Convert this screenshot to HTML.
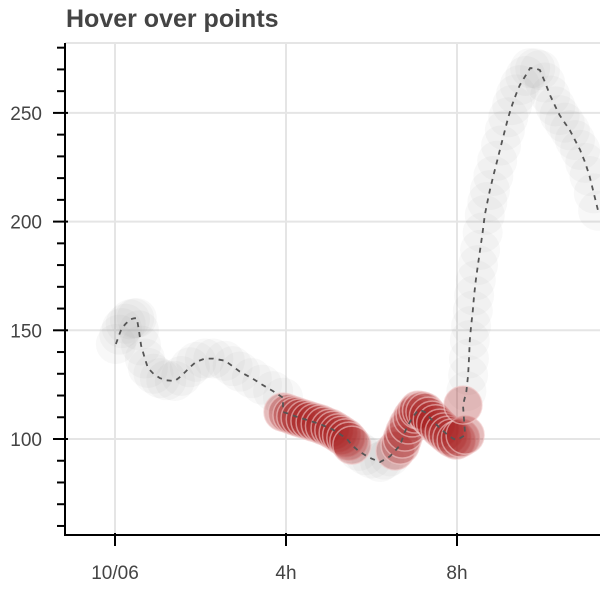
<!DOCTYPE html>
<html><head><meta charset="utf-8"><style>
html,body{margin:0;padding:0;background:#fff;}
svg{display:block;font-family:"Liberation Sans",sans-serif;}
</style></head><body>
<svg id="chart" width="600" height="600">
<text x="66" y="27" font-size="25" font-weight="bold" fill="#444">Hover over points</text>
<g id="grid"></g>
<g id="points"></g>
<g id="line"></g>
<g id="axes"></g>
</svg>
<script>
const hours=[0.02,0.1,0.16,0.25,0.35,0.45,0.51,0.56,0.61,0.7,0.77,0.9,1.05,1.2,1.4,1.55,1.75,1.9,2.1,2.3,2.57,2.75,2.92,3.2,3.44,3.7,3.93,
3.93,4.03,4.14,4.23,4.33,4.45,4.56,4.68,4.8,4.9,5.03,5.12,5.22,5.3,5.4,5.47,5.54,
5.7,5.85,6.0,6.2,6.3,6.43,
6.55,6.67,6.72,6.78,6.86,6.95,7.02,7.09,7.17,7.25,7.33,7.42,7.5,7.6,7.7,7.79,7.88,7.98,8.08,8.19,8.14,
8.22,8.26,8.28,8.3,8.33,8.37,8.4,8.44,8.49,8.54,8.6,8.65,8.71,8.77,8.85,8.94,9.03,9.12,9.2,9.29,9.38,9.47,9.6,9.71,9.83,9.94,10.06,10.18,10.3,10.4,10.52,10.64,10.76,10.88,11.0,11.1,11.2,11.3];
const values=[143.7,148,151,153,155,155.5,155.6,150,143,137,132.7,130,128,127,126.7,129,133,135.5,137,137,136,133.5,131,128,125,122,119,
112.4,111.8,111,110.4,109.7,109,108.3,107.6,106.9,106,105,104,102.8,101.7,100.5,99,97.2,
94.5,92.6,91,89.4,90.5,92,
94.5,97.2,100,103.2,106.5,109.7,111.5,113.3,113,112.4,110.5,108.7,107,105,103.3,101.8,100.5,99.5,100.5,101.8,115.6,
122,129.4,137,145.5,152,159,166,173,180,187,195,203,209,214.5,221,228,235,242,248,253.6,258.5,262.8,267,270.6,270.5,269.7,264,258,253,249,245.5,242,237.5,233,227,221,213,205];
const selectedRanges=[[27,43],[50,70]];
const yTicks=[100,150,200,250];
const xTicks=[0,4,8];
const xLabels=["10/06","4h","8h"];
const NS="http://www.w3.org/2000/svg";
const L=65,R=600,T=43,B=535;
const x=h=>115+h*42.75;
const y=v=>439-(v-100)*2.174;
const isSel=i=>selectedRanges.some(r=>i>=r[0]&&i<=r[1]);
function mk(p,tag,at){const e=document.createElementNS(NS,tag);for(const k in at)e.setAttribute(k,at[k]);p.appendChild(e);return e;}
const grid=document.getElementById('grid');
mk(grid,'line',{x1:L,x2:R,y1:T,y2:T,stroke:'#e5e5e5','stroke-width':2});
xTicks.forEach(t=>{const e=mk(grid,'line',{x1:x(t),x2:x(t),y1:T,y2:B,stroke:'#e5e5e5','stroke-width':2});

});
yTicks.forEach(t=>{const e=mk(grid,'line',{x1:L,x2:R,y1:y(t),y2:y(t),stroke:'#e5e5e5','stroke-width':2});

});
const pts=document.getElementById('points');
hours.forEach((h,i)=>{if(isSel(i))return;const c=mk(pts,'circle',{cx:x(h),cy:y(values[i]),r:20,fill:'#999','fill-opacity':0.07});

});
hours.forEach((h,i)=>{if(!isSel(i))return;const c=mk(pts,'circle',{cx:x(h),cy:y(values[i]),r:19,fill:'#a82020','fill-opacity':0.3,stroke:'#f0c8c8','stroke-width':1.5,'stroke-opacity':0.6});

});
const lg=document.getElementById('line');
const d=hours.map((h,i)=>(i?'L':'M')+x(h).toFixed(1)+','+y(values[i]).toFixed(1)).join('');
const pl=mk(lg,'path',{d:d,fill:'none',stroke:'#555','stroke-width':1.8,'stroke-dasharray':'5,5'});


const ax=document.getElementById('axes');
mk(ax,'line',{x1:L,x2:L,y1:T,y2:B+1,stroke:'#000','stroke-width':2});
mk(ax,'line',{x1:L-1,x2:R,y1:B,y2:B,stroke:'#000','stroke-width':2});
for(let v=60;v<=280;v+=10){const maj=v%50==0;mk(ax,'line',{x1:maj?53:57,x2:maj?68:65,y1:y(v),y2:y(v),stroke:'#000','stroke-width':2});}
yTicks.forEach(t=>{const e=mk(ax,'text',{x:42,y:y(t)+7,'font-size':19,fill:'#444','text-anchor':'end'});e.textContent=t;

});
xTicks.forEach((t,i)=>{mk(ax,'line',{x1:x(t),x2:x(t),y1:B-2,y2:B+11,stroke:'#000','stroke-width':2});
const e=mk(ax,'text',{x:x(t),y:B+44,'font-size':19,fill:'#444','text-anchor':'middle'});e.textContent=xLabels[i];

});
</script>
</body></html>
